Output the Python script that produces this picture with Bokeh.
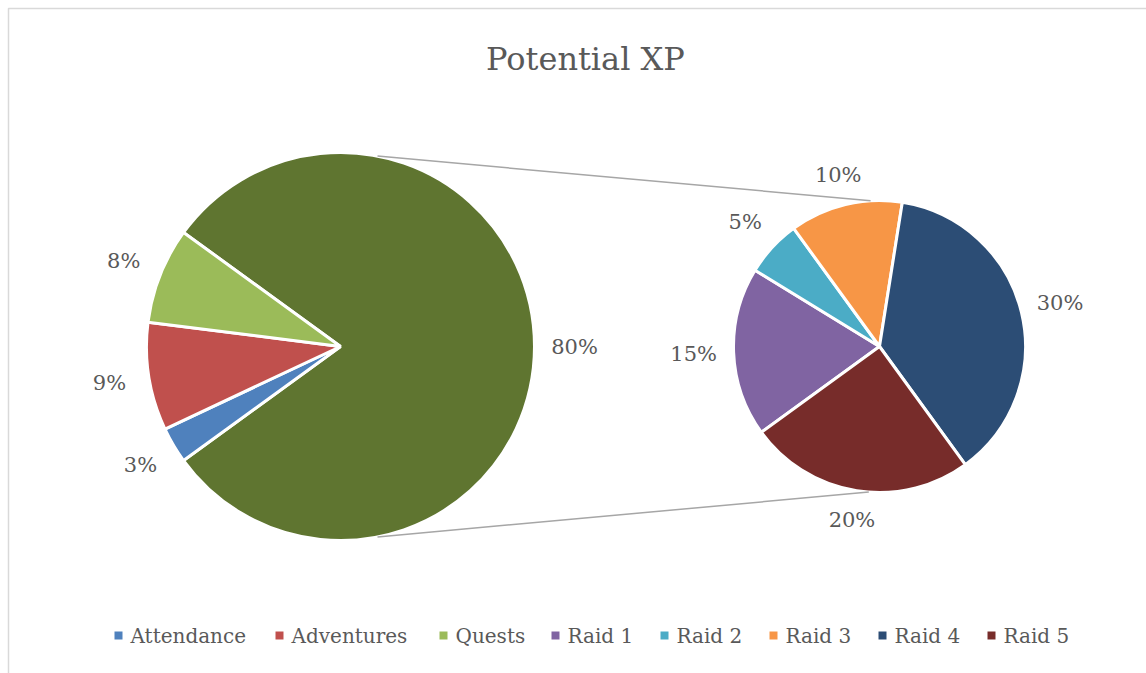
import math
from bokeh.plotting import figure
from bokeh.models import Range1d, ColumnDataSource
from bokeh.core.properties import value
from bokeh.embed import file_html
from bokeh.resources import INLINE

# ---- data ----
main_labels = ["Attendance", "Adventures", "Quests"]
main_values = [3, 9, 8]
other_value = 80
raid_labels = ["Raid 1", "Raid 2", "Raid 3", "Raid 4", "Raid 5"]
raid_values = [15, 5, 10, 30, 20]
title_text = "Potential XP"

# ---- style ----
main_colors = ["#4f81bd", "#c0504d", "#9bbb59"]
other_color = "#5f7530"
raid_colors = ["#8064a2", "#4bacc6", "#f79646", "#2c4d75", "#772c2a"]
text_color = "#595959"
FONT = "DejaVu Serif"

W, H = 1146, 673
def px(xp):  # page x -> data x
    return xp
def py(yp):  # page y -> data y
    return H - yp

p = figure(width=W, height=H, x_range=Range1d(0, W), y_range=Range1d(0, H),
           output_backend="svg", toolbar_location=None, min_border=0)
p.axis.visible = False
p.grid.visible = False
p.outline_line_color = None
p.background_fill_color = "white"

# chart border (partly outside the window)
p.line([px(8), px(8), px(1146)], [py(673), py(8), py(8)], line_color="#d9d9d9", line_width=1.5)

# left pie
LC = (px(340), py(346)); LR = 194
# right pie
RC = (px(879), py(346)); RR = 146
START = math.radians(216)

total = sum(main_values) + other_value
other_span = 2 * math.pi * other_value / total
starts, ends, cols, labs, mids = [], [], [], [], []
starts.append(-other_span / 2); ends.append(other_span / 2); cols.append(other_color)
labs.append(f"{round(100*other_value/total)}%"); mids.append(0.0)
a = START
for v, c in zip(main_values, main_colors):
    span = 2 * math.pi * v / total
    starts.append(a - span); ends.append(a); cols.append(c)
    labs.append(f"{round(100*v/total)}%"); mids.append(a - span / 2)
    a -= span

src_l = ColumnDataSource(dict(s=starts, e=ends, c=cols))
p.wedge(x=LC[0], y=LC[1], radius=LR, start_angle="s", end_angle="e",
        fill_color="c", line_color="white", line_width=3, source=src_l)

def lab_r(r, m):
    return r + 28 + 12 * abs(math.cos(m))
lx = [LC[0] + lab_r(LR, m) * math.cos(m) for m in mids]
ly = [LC[1] + lab_r(LR, m) * math.sin(m) for m in mids]

# right pie
raid_total = sum(raid_values)
a = START
rs, re_, rc, rl, rm = [], [], [], [], []
for v, c in zip(raid_values, raid_colors):
    span = 2 * math.pi * v / raid_total
    rs.append(a - span); re_.append(a); rc.append(c)
    rl.append(f"{round(100*v/total)}%"); rm.append(a - span / 2)
    a -= span
src_r = ColumnDataSource(dict(s=rs, e=re_, c=rc))
p.wedge(x=RC[0], y=RC[1], radius=RR, start_angle="s", end_angle="e",
        fill_color="c", line_color="white", line_width=3, source=src_r)

rx = [RC[0] + lab_r(RR, m) * math.cos(m) for m in rm]
ry = [RC[1] + lab_r(RR, m) * math.sin(m) for m in rm]

p.text(x=lx + rx, y=ly + ry, text=labs + rl, text_align="center",
       text_baseline="middle", text_font=value(FONT), text_font_size="21px",
       text_color=text_color)

# connector lines
def on(c, r, deg):
    return (c[0] + r * math.cos(math.radians(deg)), c[1] + r * math.sin(math.radians(deg)))
for la, ra in [(79, 93.5), (-79, -94.2)]:
    p1 = on(LC, LR, la); p2 = on(RC, RR, ra)
    p.line([p1[0], p2[0]], [p1[1], p2[1]], line_color="#a6a6a6", line_width=1.5)

# title
p.text(x=[px(585)], y=[py(58)], text=[title_text], text_align="center",
       text_baseline="middle", text_font=value(FONT), text_font_size="32px",
       text_color=text_color)

# legend
leg_labels = main_labels + raid_labels
leg_colors = main_colors + raid_colors
leg_x = [118, 279, 443, 555, 664, 773, 882, 991]
p.rect(x=[px(x) for x in leg_x], y=[py(635)] * len(leg_x), width=8, height=8,
       fill_color=leg_colors, line_color=None)
p.text(x=[px(x + 12) for x in leg_x], y=[py(635)] * len(leg_x), text=leg_labels,
       text_align="left", text_baseline="middle", text_font=value(FONT),
       text_font_size="20px", text_color=text_color)

open("out.html", "w").write(file_html(p, INLINE))
